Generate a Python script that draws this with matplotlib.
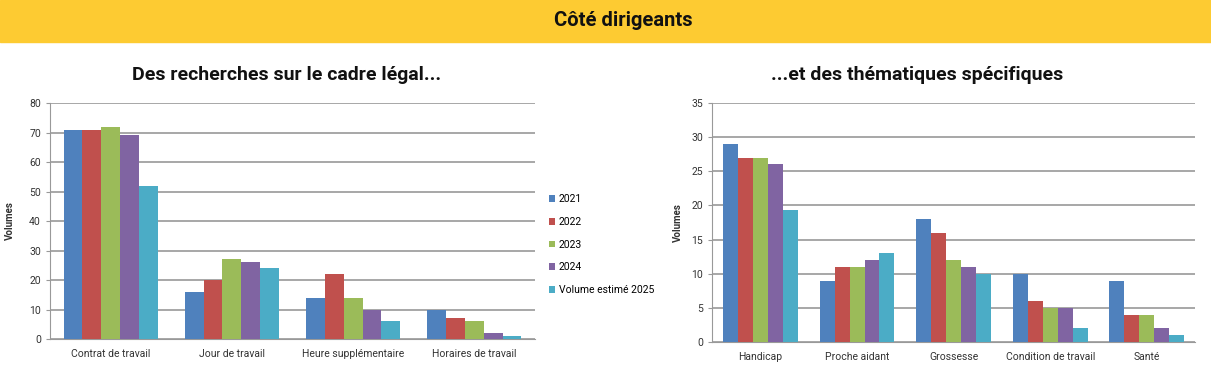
import matplotlib.pyplot as plt
import numpy as np

plt.rcParams['font.family'] = ['Roboto', 'DejaVu Sans']

annees = ["2021", "2022", "2023", "2024", "Volume estimé 2025"]
couleurs = ["#4F81BD", "#C0504D", "#9BBB59", "#8064A2", "#4BACC6"]

# cadre legal
cat_gauche = ["Contrat de travail", "Jour de travail", "Heure supplémentaire", "Horaires de travail"]
val_gauche = [
    [71, 16, 14, 10],
    [71, 20, 22, 7],
    [72, 27, 14, 6],
    [69, 26, 10, 2],
    [52, 24, 6, 1],
]

# thematiques specifiques
cat_droite = ["Handicap", "Proche aidant", "Grossesse", "Condition de travail", "Santé"]
val_droite = [
    [29, 9, 18, 10, 9],
    [27, 11, 16, 6, 4],
    [27, 11, 12, 5, 4],
    [26, 12, 11, 5, 2],
    [19.4, 13, 10, 2, 1],
]


def barres(ax, categories, valeurs, ymax, pas):
    x = np.arange(len(categories))
    w = 0.155
    for i in range(len(valeurs)):
        ax.bar(x + (i - 2) * w, valeurs[i], w, color=couleurs[i], label=annees[i], zorder=3)
    ax.set_xlim(-0.5, len(categories) - 0.5)
    ax.set_ylim(0, ymax)
    ax.set_yticks(np.arange(0, ymax + 1, pas))
    ax.set_xticks(x)
    ax.set_xticklabels(categories, fontsize=7.5, color="#333333")
    ax.tick_params(axis="x", length=0, pad=7)
    ax.tick_params(axis="y", labelsize=7.5, length=3, color="#999999", labelcolor="#333333")
    ax.yaxis.grid(True, color="#8f8f8f", linewidth=1.1, zorder=0)
    for s in ["top", "right"]:
        ax.spines[s].set_visible(False)
    ax.spines["left"].set_color("#999999")
    ax.spines["bottom"].set_color("#999999")
    ax.set_ylabel("Volumes", fontsize=7, fontweight="bold", color="#333333")


fig = plt.figure(figsize=(12.11, 3.76), dpi=100)

# bandeau jaune
fig.patches.append(plt.Rectangle((0, 1 - 42 / 376), 1, 42 / 376, transform=fig.transFigure,
                                 color="#FDCB32", zorder=0))
fig.text(0.515, 1 - 20 / 376, "Côté dirigeants", ha="center", va="center",
         fontsize=14.5, fontweight="bold", color="#111111")

ax1 = fig.add_axes([0.0413, 0.0984, 0.4005, 0.6276])
barres(ax1, cat_gauche, val_gauche, 80, 10)
ax1.yaxis.set_label_coords(-0.072, 0.5)
ax1.legend(loc="center left", bbox_to_anchor=(1.01, 0.40), frameon=False, fontsize=7.5,
           handlelength=0.6, handleheight=0.6, handletextpad=0.3, labelspacing=1.22)
fig.text(0.237, 1 - 75 / 376, "Des recherches sur le cadre légal...", ha="center", va="center",
         fontsize=14, fontweight="bold", color="#111111")

ax2 = fig.add_axes([0.588, 0.0904, 0.399, 0.6356])
barres(ax2, cat_droite, val_droite, 35, 5)
ax2.yaxis.set_label_coords(-0.06, 0.5)
fig.text(0.757, 1 - 75 / 376, "...et des thématiques spécifiques", ha="center", va="center",
         fontsize=14, fontweight="bold", color="#111111")

plt.savefig("out.png", dpi=100)
